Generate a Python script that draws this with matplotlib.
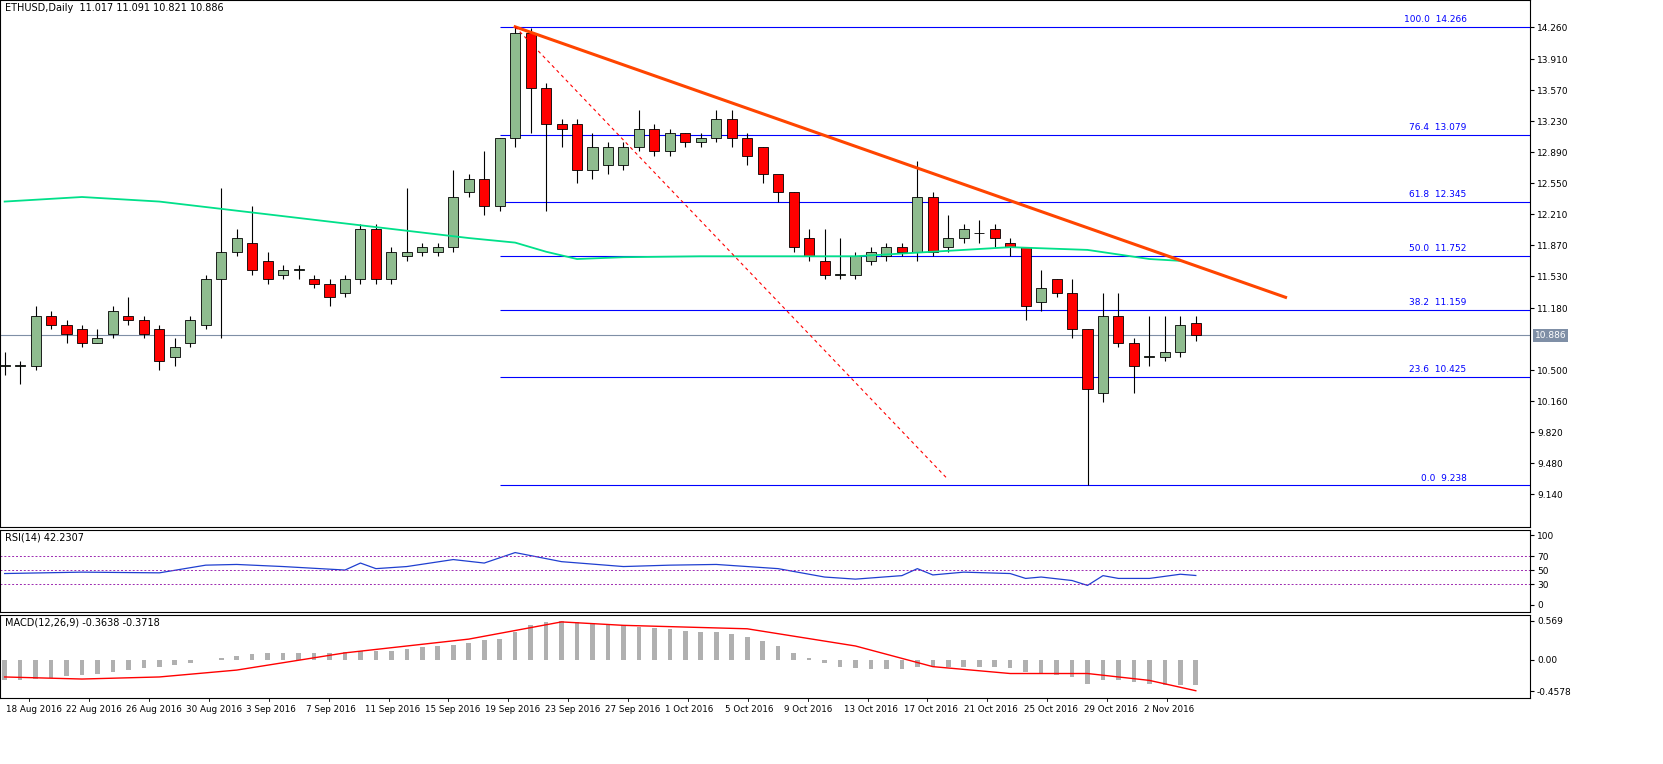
import matplotlib.pyplot as plt
import numpy as np

# OHLC, one candle per entry
opens = [10.55, 10.55, 10.55, 11.1, 11.0, 10.95, 10.8, 10.9, 11.1, 11.05, 10.95, 10.65, 10.8, 11.0, 11.5, 11.8,
         11.9, 11.7, 11.55, 11.6, 11.5, 11.45, 11.35, 11.5, 12.05, 11.5, 11.75, 11.8, 11.8, 11.85, 12.45, 12.6,
         12.3, 13.05, 14.2, 13.6, 13.2, 13.2, 12.7, 12.75, 12.75, 12.95, 13.15, 12.9, 13.1, 13.0, 13.05, 13.25,
         13.05, 12.95, 12.65, 12.45, 11.95, 11.7, 11.55, 11.55, 11.7, 11.75, 11.85, 11.8, 12.4, 11.85, 11.95,
         12.0, 12.05, 11.9, 11.85, 11.25, 11.5, 11.35, 10.95, 10.25, 11.1, 10.8, 10.65, 10.65, 10.7, 11.017]
closes = [10.55, 10.55, 11.1, 11.0, 10.9, 10.8, 10.85, 11.15, 11.05, 10.9, 10.6, 10.75, 11.05, 11.5, 11.8, 11.95,
          11.6, 11.5, 11.6, 11.6, 11.45, 11.3, 11.5, 12.05, 11.5, 11.8, 11.8, 11.85, 11.85, 12.4, 12.6, 12.3,
          13.05, 14.2, 13.6, 13.2, 13.15, 12.7, 12.95, 12.95, 12.95, 13.15, 12.9, 13.1, 13.0, 13.05, 13.25, 13.05,
          12.85, 12.65, 12.45, 11.85, 11.75, 11.55, 11.55, 11.75, 11.8, 11.85, 11.8, 12.4, 11.8, 11.95, 12.05,
          12.0, 11.95, 11.85, 11.2, 11.4, 11.35, 10.95, 10.3, 11.1, 10.8, 10.55, 10.65, 10.7, 11.0, 10.886]
highs = [10.7, 10.6, 11.2, 11.15, 11.05, 11.0, 10.95, 11.2, 11.3, 11.1, 11.0, 10.85, 11.1, 11.55, 12.5, 12.05,
         12.3, 11.8, 11.65, 11.65, 11.55, 11.5, 11.55, 12.1, 12.1, 11.85, 12.5, 11.9, 11.9, 12.7, 12.65, 12.9,
         13.05, 14.266, 14.25, 13.65, 13.25, 13.25, 13.1, 13.0, 13.0, 13.35, 13.2, 13.15, 13.1, 13.1, 13.35, 13.35,
         13.1, 12.95, 12.5, 12.45, 12.05, 12.05, 11.95, 11.8, 11.85, 11.9, 11.9, 12.8, 12.45, 12.2, 12.1,
         12.15, 12.1, 11.95, 11.85, 11.6, 11.5, 11.5, 10.95, 11.35, 11.35, 10.85, 11.1, 11.1, 11.1, 11.091]
lows = [10.45, 10.35, 10.5, 10.95, 10.8, 10.75, 10.8, 10.85, 11.0, 10.85, 10.5, 10.55, 10.75, 10.95, 10.85, 11.75,
        11.55, 11.45, 11.5, 11.5, 11.4, 11.2, 11.3, 11.45, 11.45, 11.45, 11.7, 11.75, 11.75, 11.8, 12.4, 12.2,
        12.25, 12.95, 13.1, 12.25, 12.95, 12.55, 12.6, 12.65, 12.7, 12.9, 12.85, 12.85, 12.95, 12.95, 13.0, 12.95,
        12.75, 12.55, 12.35, 11.8, 11.7, 11.5, 11.5, 11.5, 11.65, 11.7, 11.75, 11.7, 11.75, 11.8, 11.9,
        11.9, 11.85, 11.75, 11.05, 11.15, 11.3, 10.85, 9.238, 10.15, 10.75, 10.25, 10.55, 10.6, 10.65, 10.821]

ma_idx = [0, 5, 10, 15, 20, 25, 30, 33, 35, 37, 40, 45, 50, 55, 60, 65, 70, 74, 76]
ma_val = [12.35, 12.4, 12.35, 12.25, 12.15, 12.05, 11.95, 11.9, 11.8, 11.72, 11.74, 11.75, 11.75, 11.75, 11.8,
          11.85, 11.82, 11.72, 11.7]

fib_pct = ["100.0", "76.4", "61.8", "50.0", "38.2", "23.6", "0.0"]
fib_price = [14.266, 13.079, 12.345, 11.752, 11.159, 10.425, 9.238]

rsi_idx = [0, 5, 10, 13, 15, 18, 22, 23, 24, 26, 29, 31, 33, 36, 40, 43, 46, 50, 53, 55, 58, 59, 60, 62, 65,
           66, 67, 69, 70, 71, 72, 74, 76, 77]
rsi_val = [45, 47, 46, 57, 58, 55, 50, 60, 52, 55, 65, 60, 75, 62, 55, 57, 58, 52, 40, 37, 42, 52, 43, 47, 45,
           38, 40, 35, 28, 42, 38, 38, 44, 42.2]

macd_main = [-0.3, -0.3, -0.28, -0.26, -0.24, -0.22, -0.2, -0.18, -0.15, -0.12, -0.1, -0.07, -0.04, 0.0, 0.03,
             0.06, 0.08, 0.1, 0.1, 0.1, 0.1, 0.1, 0.11, 0.12, 0.12, 0.13, 0.15, 0.18, 0.2, 0.22, 0.25, 0.28,
             0.3, 0.4, 0.5, 0.55, 0.56, 0.55, 0.54, 0.52, 0.5, 0.48, 0.46, 0.44, 0.42, 0.4, 0.4, 0.38, 0.33, 0.27,
             0.2, 0.1, 0.02, -0.05, -0.1, -0.12, -0.13, -0.13, -0.14, -0.1, -0.1, -0.1, -0.1, -0.1, -0.11, -0.12,
             -0.18, -0.2, -0.22, -0.25, -0.35, -0.3, -0.3, -0.33, -0.35, -0.36, -0.36, -0.3638]
sig_idx = [0, 5, 10, 15, 22, 30, 36, 40, 48, 55, 60, 65, 70, 74, 77]
sig_val = [-0.25, -0.28, -0.25, -0.15, 0.1, 0.3, 0.55, 0.5, 0.45, 0.2, -0.1, -0.2, -0.2, -0.3, -0.45]

date_labels = ["18 Aug 2016", "22 Aug 2016", "26 Aug 2016", "30 Aug 2016", "3 Sep 2016", "7 Sep 2016",
               "11 Sep 2016", "15 Sep 2016", "19 Sep 2016", "23 Sep 2016", "27 Sep 2016", "1 Oct 2016",
               "5 Oct 2016", "9 Oct 2016", "13 Oct 2016", "17 Oct 2016", "21 Oct 2016", "25 Oct 2016",
               "29 Oct 2016", "2 Nov 2016"]

fig = plt.figure(figsize=(16.63, 7.64), dpi=100)
ax = fig.add_axes([0.0, 0.31, 0.92, 0.69])
ax_rsi = fig.add_axes([0.0, 0.199, 0.92, 0.107])
ax_macd = fig.add_axes([0.0, 0.086, 0.92, 0.109])

n = len(closes)
x = np.arange(n)
xlim = (-0.3, 98.6)
for a in (ax, ax_rsi, ax_macd):
    a.set_xlim(*xlim)
    a.yaxis.tick_right()
    a.tick_params(axis="y", labelsize=6.5, length=3, pad=2)
    a.tick_params(axis="x", bottom=False, labelbottom=False)
    for s in a.spines.values():
        s.set_linewidth(0.8)

# candles
for i in range(n):
    up = closes[i] >= opens[i]
    ax.vlines(i, lows[i], highs[i], color="black", lw=0.8, zorder=2)
    lo, hi = min(opens[i], closes[i]), max(opens[i], closes[i])
    ax.bar(i, max(hi - lo, 0.01), bottom=lo, width=0.65,
           color="#8fbc8f" if up else "#ff0000", edgecolor="black", lw=0.6, zorder=3)

ax.plot(ma_idx, ma_val, color="#00e08a", lw=1.3, zorder=4)
for p, v in zip(fib_pct, fib_price):
    ax.hlines(v, 32, xlim[1], color="#0000ff", lw=0.8, zorder=1)
    ax.text(94.5, v + 0.03, f"{p}  {v:.3f}", color="#0000ff", fontsize=6.5, ha="right", va="bottom")
ax.axhline(closes[-1], color="#7f8fa6", lw=0.8, zorder=1)
ax.plot([33, 82.8], [14.266, 11.3], color="#ff4500", lw=2.2, zorder=5)
ax.plot([33, 61], [14.266, 9.3], color="#ff0000", lw=0.8, ls=(0, (3, 3)), zorder=5)

ax.set_ylim(8.78, 14.56)
ax.set_yticks([9.14, 9.48, 9.82, 10.16, 10.5, 11.18, 11.53, 11.87, 12.21, 12.55, 12.89, 13.23, 13.57, 13.91, 14.26])
ax.set_yticklabels([f"{t:.3f}" for t in ax.get_yticks()])
ax.text(xlim[1] + 0.3, closes[-1], f"{closes[-1]:.3f}", fontsize=6.5,
        color="white", va="center", ha="left", bbox=dict(fc="#7f8fa6", ec="none", pad=1.5))
ax.text(0.003, 0.995, "ETHUSD,Daily  11.017 11.091 10.821 10.886", transform=ax.transAxes,
        fontsize=7, va="top")

# RSI
ax_rsi.plot(rsi_idx, rsi_val, color="#1f3fd0", lw=0.9)
for lv in (30, 50, 70):
    ax_rsi.axhline(lv, color="#9c27b0", lw=0.7, ls=(0, (2, 2)))
ax_rsi.set_ylim(-10, 107)
ax_rsi.set_yticks([0, 30, 50, 70, 100])
ax_rsi.text(0.003, 0.97, "RSI(14) 42.2307", transform=ax_rsi.transAxes, fontsize=7, va="top")

# MACD
ax_macd.bar(x, macd_main, width=0.3, color="#b0b0b0")
ax_macd.plot(sig_idx, sig_val, color="#ff0000", lw=1.0)
ax_macd.set_ylim(-0.56, 0.65)
ax_macd.set_yticks([-0.4578, 0.0, 0.569])
ax_macd.set_yticklabels(["-0.4578", "0.00", "0.569"])
ax_macd.text(0.003, 0.97, "MACD(12,26,9) -0.3638 -0.3718", transform=ax_macd.transAxes, fontsize=7, va="top")

# date axis
tick_pos = 1.6 + np.arange(len(date_labels)) * 3.87
for tp, lab in zip(tick_pos, date_labels):
    ax_macd.text(tp - 1.5, -0.72, lab, fontsize=6.3, ha="left", va="center")
    ax_macd.plot([tp, tp], [-0.56, -0.6], color="black", lw=0.6, clip_on=False)

fig.savefig("out.png", dpi=100)
